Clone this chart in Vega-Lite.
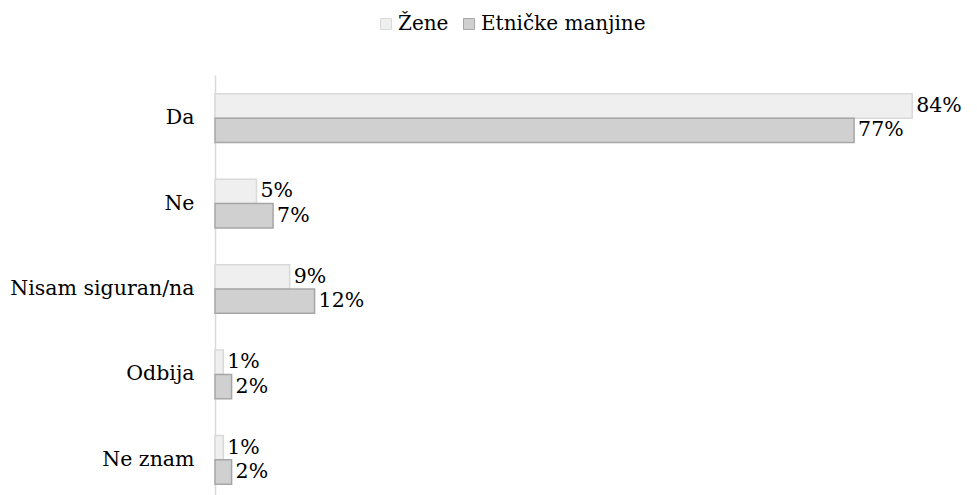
{
  "$schema": "https://vega.github.io/schema/vega-lite/v6.json",
  "autosize": {"type": "none"},
  "width": 747,
  "height": 428,
  "padding": {"left": 215, "top": 75, "right": 15, "bottom": 0},
  "config": {
    "view": {"stroke": null},
    "font": "DejaVu Serif",
    "text": {"font": "DejaVu Serif"}
  },
  "data": {
    "values": [
      {"odgovor": "Da", "grupa": "Žene", "v": 0.84, "t": "84%"},
      {"odgovor": "Da", "grupa": "Etničke manjine", "v": 0.77, "t": "77%"},
      {"odgovor": "Ne", "grupa": "Žene", "v": 0.05, "t": "5%"},
      {"odgovor": "Ne", "grupa": "Etničke manjine", "v": 0.07, "t": "7%"},
      {"odgovor": "Nisam siguran/na", "grupa": "Žene", "v": 0.09, "t": "9%"},
      {"odgovor": "Nisam siguran/na", "grupa": "Etničke manjine", "v": 0.12, "t": "12%"},
      {"odgovor": "Odbija", "grupa": "Žene", "v": 0.01, "t": "1%"},
      {"odgovor": "Odbija", "grupa": "Etničke manjine", "v": 0.02, "t": "2%"},
      {"odgovor": "Ne znam", "grupa": "Žene", "v": 0.01, "t": "1%"},
      {"odgovor": "Ne znam", "grupa": "Etničke manjine", "v": 0.02, "t": "2%"}
    ]
  },
  "encoding": {
    "y": {
      "field": "odgovor", "type": "nominal",
      "sort": ["Da", "Ne", "Nisam siguran/na", "Odbija", "Ne znam"],
      "scale": {"paddingInner": 0.43, "paddingOuter": 0.22},
      "axis": {
        "title": null, "ticks": false, "domainColor": "#d9d9d9", "domainWidth": 1.5,
        "labelFontSize": 20.5, "labelColor": "#000", "labelPadding": 21, "labelFont": "DejaVu Serif",
        "labelLimit": 0
      }
    },
    "yOffset": {"field": "grupa", "type": "nominal", "sort": ["Žene", "Etničke manjine"], "scale": {"paddingInner": 0, "paddingOuter": 0}},
    "x": {
      "field": "v", "type": "quantitative",
      "scale": {"domain": [0, 0.9]},
      "axis": null
    }
  },
  "layer": [
    {
      "mark": {"type": "bar", "strokeWidth": 1.5},
      "encoding": {
        "fill": {
          "field": "grupa", "type": "nominal",
          "sort": ["Žene", "Etničke manjine"],
          "scale": {"domain": ["Žene", "Etničke manjine"], "range": ["#efefef", "#d0d0d0"]},
          "legend": {
            "title": null, "orient": "none", "direction": "horizontal",
            "legendX": 161, "legendY": -61,
            "symbolType": "square", "symbolSize": 120, "symbolStrokeWidth": 1,
            "labelFontSize": 20, "labelColor": "#000", "labelFont": "DejaVu Serif",
            "labelLimit": 0, "columnPadding": 10, "labelOffset": 2
          }
        },
        "stroke": {
          "field": "grupa", "type": "nominal",
          "scale": {"domain": ["Žene", "Etničke manjine"], "range": ["#d9d9d9", "#a6a6a6"]},
          "legend": null
        }
      }
    },
    {
      "mark": {"type": "text", "align": "left", "baseline": "middle", "dx": 4, "fontSize": 20.5, "color": "#000"},
      "encoding": {"text": {"field": "t"}}
    }
  ]
}
